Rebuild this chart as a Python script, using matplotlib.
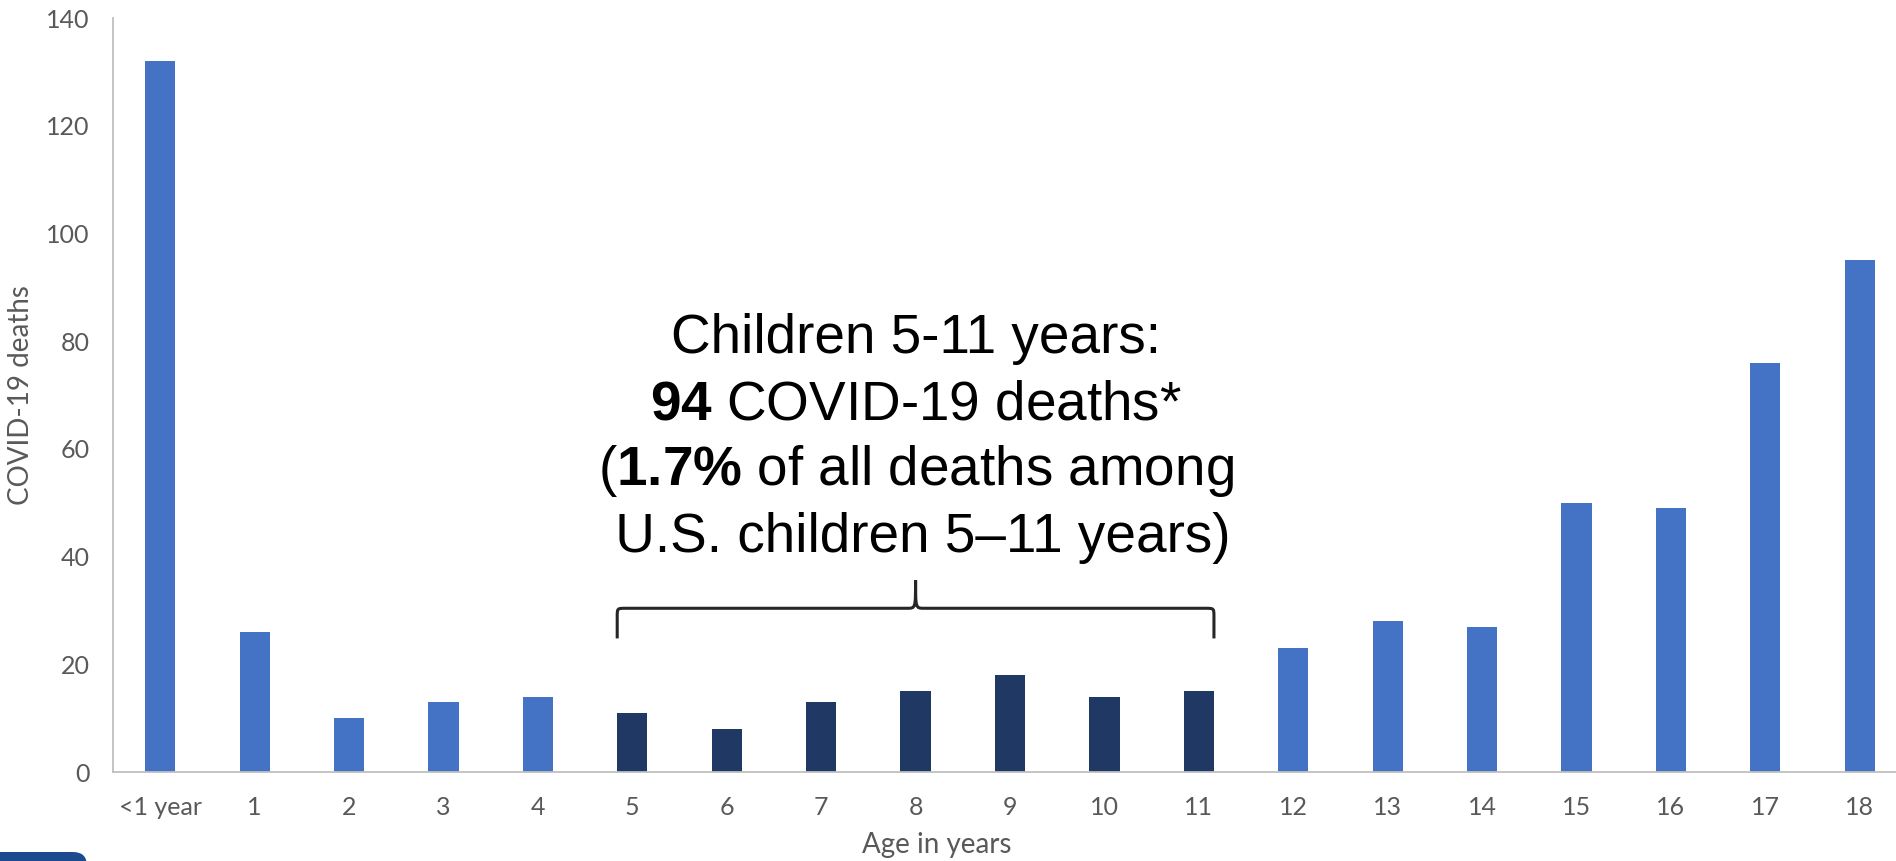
import matplotlib
matplotlib.use("Agg")
import matplotlib.pyplot as plt
from matplotlib.path import Path
from matplotlib.patches import PathPatch, FancyBboxPatch
from matplotlib.transforms import IdentityTransform

ages = ["<1 year", "1", "2", "3", "4", "5", "6", "7", "8", "9",
        "10", "11", "12", "13", "14", "15", "16", "17", "18"]
deaths = [132, 26, 10, 13, 14, 11, 8, 13, 15, 18,
          14, 15, 23, 28, 27, 50, 49, 76, 95]
group_ages = ["5", "6", "7", "8", "9", "10", "11"]

note_lines = [
    "Children 5-11 years:",
    r"$\mathbf{94}$ COVID-19 deaths*",
    r"($\mathbf{1.7\%}$ of all deaths among",
    " U.S. children 5\u201311 years)",
]

light_blue = "#4472C4"
navy = "#203864"
grey_text = "#595959"

plt.rcParams["mathtext.fontset"] = "custom"
plt.rcParams["mathtext.rm"] = "Liberation Sans"
plt.rcParams["mathtext.bf"] = "Liberation Sans:bold"

fig = plt.figure(figsize=(18.96, 8.61), dpi=100)
ax = fig.add_axes([113 / 1896, 89 / 861, 1794 / 1896, 754 / 861])

xs = list(range(len(ages)))
colors = [navy if a in group_ages else light_blue for a in ages]
bar_w = 0.32
ax.bar(xs, deaths, width=bar_w, color=colors)

ax.set_xlim(-0.5, len(ages) - 0.5)
ax.set_ylim(0, 140)
ax.set_yticks(range(0, 141, 20))
ax.set_xticks(xs)
ax.set_xticklabels(ages)
ax.tick_params(axis="both", length=0, labelsize=18, labelcolor=grey_text, pad=17)
for lab in ax.get_xticklabels() + ax.get_yticklabels():
    lab.set_fontfamily("Lato")

for side in ["top", "right"]:
    ax.spines[side].set_visible(False)
for side in ["left", "bottom"]:
    ax.spines[side].set_color("#BFBFBF")
    ax.spines[side].set_linewidth(1.3)

ax.set_xlabel("Age in years", fontsize=20, color=grey_text, family="Lato")
ax.xaxis.set_label_coords(0.459, -0.08)
ax.set_ylabel("COVID-19 deaths", fontsize=20, color=grey_text, family="Lato")
ax.yaxis.set_label_coords(-0.044, 0.5)

# curly brace over the 5-11 group
i0 = ages.index(group_ages[0])
i1 = ages.index(group_ages[-1])
x0 = i0 - bar_w / 2
x1 = i1 + bar_w / 2
xm = (i0 + i1) / 2
y_end, y_bar, y_tip = 24.8, 30.4, 35.6
rx, ry = 0.09, 1.6
verts = [
    (x0, y_end), (x0, y_bar - ry),
    (x0, y_bar), (x0, y_bar), (x0 + rx, y_bar),
    (xm - rx, y_bar),
    (xm, y_bar), (xm, y_bar), (xm, y_tip),
    (xm, y_bar), (xm, y_bar), (xm + rx, y_bar),
    (x1 - rx, y_bar),
    (x1, y_bar), (x1, y_bar), (x1, y_bar - ry),
    (x1, y_end),
]
codes = [Path.MOVETO, Path.LINETO,
         Path.CURVE4, Path.CURVE4, Path.CURVE4,
         Path.LINETO,
         Path.CURVE4, Path.CURVE4, Path.CURVE4,
         Path.CURVE4, Path.CURVE4, Path.CURVE4,
         Path.LINETO,
         Path.CURVE4, Path.CURVE4, Path.CURVE4,
         Path.LINETO]
ax.add_patch(PathPatch(Path(verts, codes), facecolor="none",
                       edgecolor="#262626", linewidth=2.2, clip_on=False))

# annotation text, one line per baseline
y_first, step = 77.8, 12.3
for k, line in enumerate(note_lines):
    ax.text(xm, y_first - k * step, line, ha="center", va="baseline",
            fontsize=39.5, family="Liberation Sans", color="black")

# dark blue slide tab in the lower left corner
fig.patches.append(FancyBboxPatch((-40, -40), 127, 49,
                                  boxstyle="round,pad=0,rounding_size=14",
                                  facecolor="#1B4A8F", edgecolor="none",
                                  transform=IdentityTransform(), figure=fig))

fig.savefig("out.png", dpi=100)
